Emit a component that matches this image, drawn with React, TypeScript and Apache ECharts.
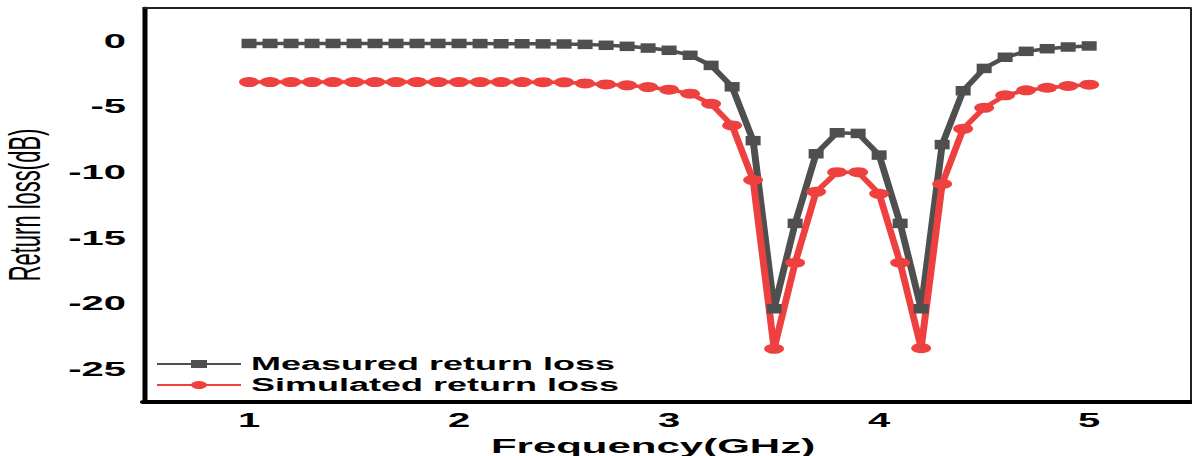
import React, { useEffect, useRef } from "react";
import * as echarts from "echarts";

const frequency = [
  1.0, 1.1, 1.2, 1.3, 1.4, 1.5, 1.6, 1.7, 1.8, 1.9,
  2.0, 2.1, 2.2, 2.3, 2.4, 2.5, 2.6, 2.7, 2.8, 2.9,
  3.0, 3.1, 3.2, 3.3, 3.4, 3.5, 3.6, 3.7, 3.8, 3.9,
  4.0, 4.1, 4.2, 4.3, 4.4, 4.5, 4.6, 4.7, 4.8, 4.9, 5.0,
];

const measured = [
  -0.2, -0.2, -0.2, -0.2, -0.2, -0.2, -0.2, -0.2, -0.2, -0.2,
  -0.2, -0.21, -0.22, -0.22, -0.23, -0.24, -0.27, -0.34, -0.42, -0.55,
  -0.72, -1.1, -1.87, -3.5, -7.6, -20.4, -13.9, -8.6, -7.0, -7.05,
  -8.7, -13.9, -20.4, -7.9, -3.8, -2.1, -1.25, -0.8, -0.6, -0.47, -0.39,
];

const simulated = [
  -3.14, -3.14, -3.14, -3.14, -3.14, -3.14, -3.14, -3.14, -3.14, -3.14,
  -3.14, -3.14, -3.14, -3.14, -3.15, -3.16, -3.24, -3.32, -3.39, -3.52,
  -3.72, -4.02, -4.8, -6.44, -10.6, -23.45, -16.9, -11.5, -10.0, -10.0,
  -11.65, -16.9, -23.4, -10.9, -6.7, -5.1, -4.15, -3.77, -3.57, -3.44, -3.34,
];

const xTicks = [1, 2, 3, 4, 5];
const yTicks = [0, -5, -10, -15, -20, -25];

const GRAY = "#4f4f4f";
const RED = "#ef4040";
const FONT = "'Liberation Sans', Arial, sans-serif";

export default function App() {
  const ref = useRef<HTMLDivElement>(null);

  useEffect(() => {
    if (!ref.current) return;
    const chart = echarts.init(ref.current, undefined, { renderer: "svg" });
    const pairs = (vals: number[]) => frequency.map((f, i) => [f, vals[i]]);
    chart.setOption({
      animation: false,
      textStyle: { fontFamily: FONT },
      grid: { left: 72, right: 1, top: 8, bottom: 54, containLabel: false, outerBoundsMode: "none" },
      legend: {
        orient: "vertical",
        left: 72.5,
        top: 350,
        itemWidth: 42,
        itemHeight: 10,
        itemGap: 3,
        textStyle: { fontSize: 18, fontWeight: "bold", color: "#000", fontFamily: FONT },
        data: ["Measured return loss", "Simulated return loss"],
      },
      xAxis: [
        {
          type: "value",
          min: 0.5,
          max: 5.48,
          name: "Frequency(GHz)",
          nameLocation: "middle",
          nameGap: 25,
          nameTextStyle: {
            fontSize: 21,
            fontWeight: "bold",
            color: "#000",
            fontFamily: FONT,
            padding: [0, 14, 0, 0],
          },
          axisLine: { show: true, onZero: false, lineStyle: { color: "#000", width: 4 } },
          axisTick: { show: false },
          splitLine: { show: false },
          axisLabel: {
            customValues: xTicks,
            margin: 8,
            fontSize: 20,
            fontWeight: "bold",
            color: "#000",
            fontFamily: FONT,
          },
        },
        {
          type: "value",
          position: "top",
          min: 0.5,
          max: 5.48,
          axisLine: { show: true, onZero: false, lineStyle: { color: "#222", width: 2 } },
          axisTick: { show: false },
          axisLabel: { show: false },
          splitLine: { show: false },
        },
      ],
      yAxis: [
        {
          type: "value",
          min: -27.5,
          max: 2.5,
          name: "Return loss(dB)",
          nameLocation: "middle",
          nameGap: 38,
          nameTextStyle: { fontSize: 22, color: "#000", fontFamily: FONT },
          axisLine: { show: true, onZero: false, lineStyle: { color: "#000", width: 2.5 } },
          axisTick: { show: false },
          splitLine: { show: false },
          axisLabel: {
            customValues: yTicks,
            margin: 9,
            fontSize: 20,
            fontWeight: "bold",
            color: "#000",
            fontFamily: FONT,
          },
        },
        {
          type: "value",
          position: "right",
          min: -27.5,
          max: 2.5,
          axisLine: { show: true, onZero: false, lineStyle: { color: "#222", width: 1 } },
          axisTick: { show: false },
          axisLabel: { show: false },
          splitLine: { show: false },
        },
      ],
      series: [
        {
          name: "Measured return loss",
          type: "line",
          data: pairs(measured),
          symbol: "rect",
          symbolSize: [7.5, 9.5],
          lineStyle: { color: GRAY, width: 3.5 },
          itemStyle: { color: GRAY },
        },
        {
          name: "Simulated return loss",
          type: "line",
          data: pairs(simulated),
          symbol: "circle",
          symbolSize: 10,
          lineStyle: { color: RED, width: 3.5 },
          itemStyle: { color: RED },
        },
      ],
    });
    return () => chart.dispose();
  }, []);

  return (
    <div
      style={{
        position: "fixed",
        left: 0,
        top: 0,
        width: 1192,
        height: 456,
        overflow: "hidden",
        background: "#fff",
      }}
    >
      <div
        ref={ref}
        style={{
          width: 596,
          height: 456,
          transform: "scaleX(2)",
          transformOrigin: "0 0",
        }}
      />
    </div>
  );
}
